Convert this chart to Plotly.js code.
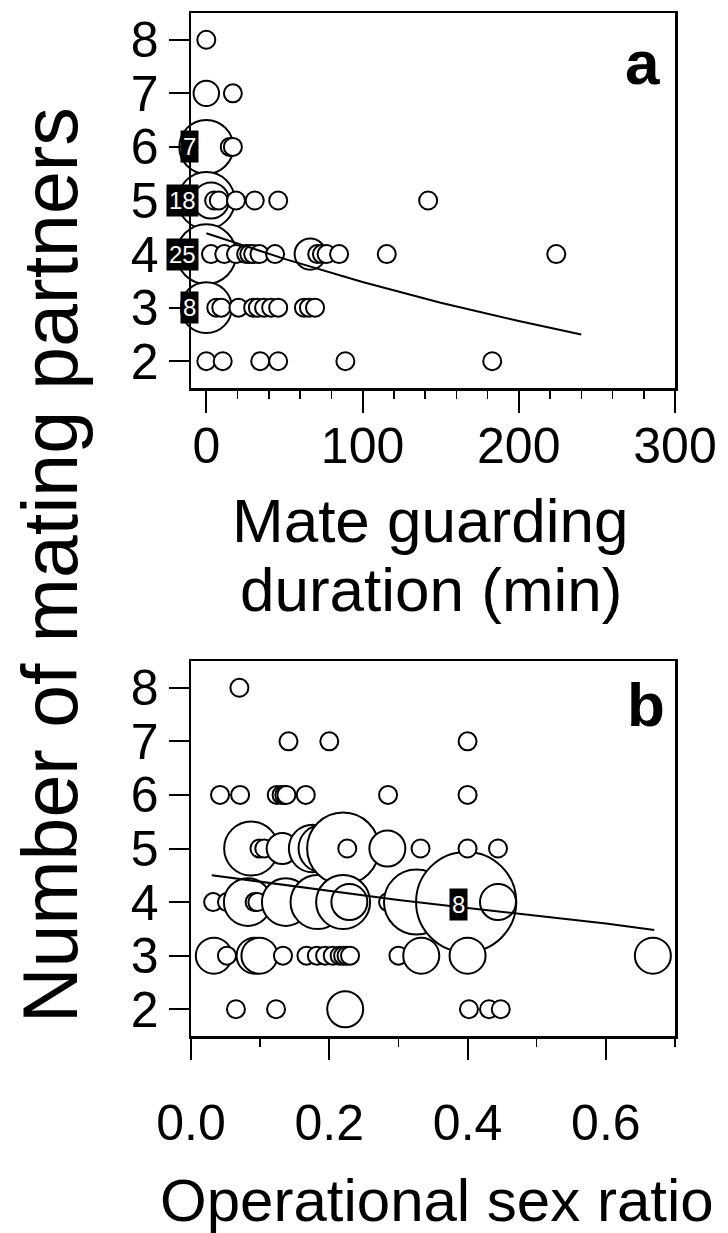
<!DOCTYPE html>
<html>
<head>
<meta charset="utf-8">
<script src="https://cdn.plot.ly/plotly-3.0.1.min.js"></script>
<style>
html,body{margin:0;padding:0;background:#ffffff;}
#chart{width:728px;height:1233px;}
</style>
</head>
<body>
<div id="chart"></div>
<script>
// ---------- Panel a: mate guarding duration (min) vs number of mating partners ----------
const guardMin = [
  0,
  0, 17,
  0, 15, 17,
  0, 3, 5, 8, 19, 31, 46, 142,
  0, 3, 11.5, 19, 25.5, 27.5, 30, 34, 44, 66.5, 71, 74, 77, 85, 115.5, 224,
  0, 6.4, 9.6, 20.6, 30, 33, 37, 41.5, 46, 62.5, 65.7, 69.6,
  0, 10.5, 34.5, 46, 89, 183
];
const partnersA = [
  8,
  7, 7,
  6, 6, 6,
  5, 5, 5, 5, 5, 5, 5, 5,
  4, 4, 4, 4, 4, 4, 4, 4, 4, 4, 4, 4, 4, 4, 4, 4,
  3, 3, 3, 3, 3, 3, 3, 3, 3, 3, 3, 3,
  2, 2, 2, 2, 2, 2
];
const countA = [
  1,
  2, 1,
  9, 1, 1,
  10, 4, 1, 1, 1, 1, 1, 1,
  11, 1, 1, 1, 1, 1, 1, 1, 1, 3, 1, 1, 1, 1, 1, 1,
  8, 1, 1, 1, 1, 1, 1, 1, 1, 1, 1, 1,
  1, 1, 1, 1, 1, 1
];
// numbers printed on the x = 0 bubbles
const labelTextA = ['7', '18', '25', '8'];
const labelRowA = [6, 5, 4, 3];
// fitted curve, panel a
const fitXA = [0, 50, 100, 150, 200, 240];
const fitYA = [4.39, 3.91, 3.48, 3.09, 2.75, 2.50];

// ---------- Panel b: operational sex ratio vs number of mating partners ----------
const osr = [
  0.07,
  0.141, 0.20, 0.40,
  0.042, 0.071, 0.124, 0.131, 0.135, 0.138, 0.166, 0.285, 0.40,
  0.087, 0.099, 0.106, 0.132, 0.176, 0.19, 0.22, 0.226, 0.284, 0.332, 0.40, 0.444,
  0.032, 0.052, 0.082, 0.092, 0.096, 0.137, 0.183, 0.22, 0.229, 0.285, 0.326, 0.398, 0.444,
  0.033, 0.052, 0.092, 0.099, 0.133, 0.167, 0.182, 0.194, 0.205, 0.215, 0.220, 0.225, 0.230, 0.30, 0.333, 0.40, 0.668,
  0.065, 0.123, 0.223, 0.402, 0.431, 0.448
];
const partnersB = [
  8,
  7, 7, 7,
  6, 6, 6, 6, 6, 6, 6, 6, 6,
  5, 5, 5, 5, 5, 5, 5, 5, 5, 5, 5, 5,
  4, 4, 4, 4, 4, 4, 4, 4, 4, 4, 4, 4, 4,
  3, 3, 3, 3, 3, 3, 3, 3, 3, 3, 3, 3, 3, 3, 3, 3, 3,
  2, 2, 2, 2, 2, 2
];
const countB = [
  1,
  1, 1, 1,
  1, 1, 1, 1, 1, 1, 1, 1, 1,
  9, 1, 1, 3, 7, 7, 16, 1, 4, 1, 1, 1,
  1, 1, 7, 1, 1, 7, 9, 9, 4, 1, 13, 31, 4,
  4, 1, 4, 4, 1, 1, 1, 1, 1, 1, 1, 1, 1, 1, 4, 4, 4,
  1, 1, 4, 1, 1, 1
];
const labelTextB = ['8'];
const labelXB = [0.387];
const labelRowB = [3.95];
// fitted curve, panel b
const fitXB = [0.03, 0.1, 0.2, 0.3, 0.4, 0.5, 0.6, 0.67];
const fitYB = [4.50, 4.38, 4.21, 4.04, 3.89, 3.74, 3.60, 3.48];

const yTicks = [2, 3, 4, 5, 6, 7, 8];
const xTicksA = [0, 100, 200, 300];
const xTicksB = [0, 0.2, 0.4, 0.6];

// ---------- drawing ----------
const W = 728, H = 1233;
const FONT = 'Liberation Sans, Arial, Helvetica, sans-serif';
const px = p => p / W;
const py = p => 1 - p / H;

// draw bubbles in x order (white-filled, later ones cover earlier ones)
function sortByX(xs, ys, ns) {
  const idx = xs.map((_, i) => i).sort((a, b) => xs[a] - xs[b]);
  return { x: idx.map(i => xs[i]), y: idx.map(i => ys[i]), n: idx.map(i => ns[i]) };
}
const A = sortByX(guardMin, partnersA, countA);
const B = sortByX(osr, partnersB, countB);

const bubbleMarker = n => ({
  size: n, sizemode: 'area', sizeref: 1 / 162, opacity: 1,
  color: '#ffffff', line: { color: '#000000', width: 2 }
});

const traces = [
  { type: 'scatter', mode: 'markers', x: A.x, y: A.y, xaxis: 'x', yaxis: 'y',
    marker: bubbleMarker(A.n), cliponaxis: false, hoverinfo: 'x+y', showlegend: false },
  { type: 'scatter', mode: 'lines', x: fitXA, y: fitYA, xaxis: 'x', yaxis: 'y',
    line: { color: '#000000', width: 2 }, showlegend: false },
  { type: 'scatter', mode: 'markers', x: B.x, y: B.y, xaxis: 'x2', yaxis: 'y2',
    marker: bubbleMarker(B.n), cliponaxis: false, hoverinfo: 'x+y', showlegend: false },
  { type: 'scatter', mode: 'lines', x: fitXB, y: fitYB, xaxis: 'x2', yaxis: 'y2',
    line: { color: '#000000', width: 2 }, showlegend: false }
];

const axisCommon = {
  showline: true, linecolor: '#000000', linewidth: 2.5, mirror: true,
  showgrid: false, zeroline: false, ticks: 'outside', tickcolor: '#000000',
  tickwidth: 2, automargin: false,
  tickfont: { family: FONT, size: 50, color: '#000000' }
};

const labelAnn = [];
labelTextA.forEach((t, i) => labelAnn.push({
  xref: 'x', yref: 'y', x: -4.5, y: labelRowA[i], xanchor: 'right', yanchor: 'middle',
  text: t, showarrow: false, bgcolor: '#000000', borderpad: 2,
  font: { family: FONT, size: 24, color: '#ffffff' }
}));
labelTextB.forEach((t, i) => labelAnn.push({
  xref: 'x2', yref: 'y2', x: labelXB[i], y: labelRowB[i], xanchor: 'center', yanchor: 'middle',
  text: t, showarrow: false, bgcolor: '#000000', borderpad: 2,
  font: { family: FONT, size: 24, color: '#ffffff' }
}));

const textAnn = [
  { xref: 'paper', yref: 'paper', x: px(642), y: py(62), xanchor: 'center', yanchor: 'middle',
    text: '<b>a</b>', showarrow: false, font: { family: FONT, size: 62, color: '#000000' } },
  { xref: 'paper', yref: 'paper', x: px(646), y: py(704), xanchor: 'center', yanchor: 'middle',
    text: '<b>b</b>', showarrow: false, font: { family: FONT, size: 62, color: '#000000' } },
  { xref: 'paper', yref: 'paper', x: px(430), y: py(520), xanchor: 'center', yanchor: 'middle',
    text: 'Mate guarding', showarrow: false, font: { family: FONT, size: 62, color: '#000000' } },
  { xref: 'paper', yref: 'paper', x: px(431), y: py(590), xanchor: 'center', yanchor: 'middle',
    text: 'duration (min)', showarrow: false, font: { family: FONT, size: 62, color: '#000000' } },
  { xref: 'paper', yref: 'paper', x: px(158), y: py(1200), xanchor: 'left', yanchor: 'middle',
    text: 'Operational sex ratio', showarrow: false, font: { family: FONT, size: 60, color: '#000000' } },
  { xref: 'paper', yref: 'paper', x: px(50), y: py(565), xanchor: 'center', yanchor: 'middle',
    text: 'Number of mating partners', textangle: -90, showarrow: false,
    font: { family: FONT, size: 77, color: '#000000' } }
];

const layout = {
  width: W, height: H,
  margin: { l: 0, r: 0, t: 0, b: 0, pad: 0 },
  paper_bgcolor: '#ffffff', plot_bgcolor: '#ffffff',
  showlegend: false,
  xaxis: Object.assign({}, axisCommon, {
    domain: [px(191), px(675)], anchor: 'y', range: [-9.8, 300],
    tickvals: xTicksA, ticklen: 22, ticklabelstandoff: -10,
    minor: { dtick: 20, ticks: 'outside', ticklen: 8, tickwidth: 1.5, tickcolor: '#000000', showgrid: false }
  }),
  yaxis: Object.assign({}, axisCommon, {
    domain: [py(388), py(13)], anchor: 'x', range: [1.5, 8.5],
    tickvals: yTicks, ticklen: 20
  }),
  xaxis2: Object.assign({}, axisCommon, {
    domain: [px(191), px(675)], anchor: 'y2', range: [0, 0.7],
    tickvals: xTicksB, tickformat: '.1f', ticklen: 21, ticklabelstandoff: 20,
    minor: { dtick: 0.1, ticks: 'outside', ticklen: 8, tickwidth: 1.5, tickcolor: '#000000', showgrid: false }
  }),
  yaxis2: Object.assign({}, axisCommon, {
    domain: [py(1036), py(661)], anchor: 'x2', range: [1.5, 8.5],
    tickvals: yTicks, ticklen: 20
  }),
  annotations: labelAnn.concat(textAnn)
};

Plotly.newPlot('chart', traces, layout, { displayModeBar: false, staticPlot: true });
</script>
</body>
</html>
